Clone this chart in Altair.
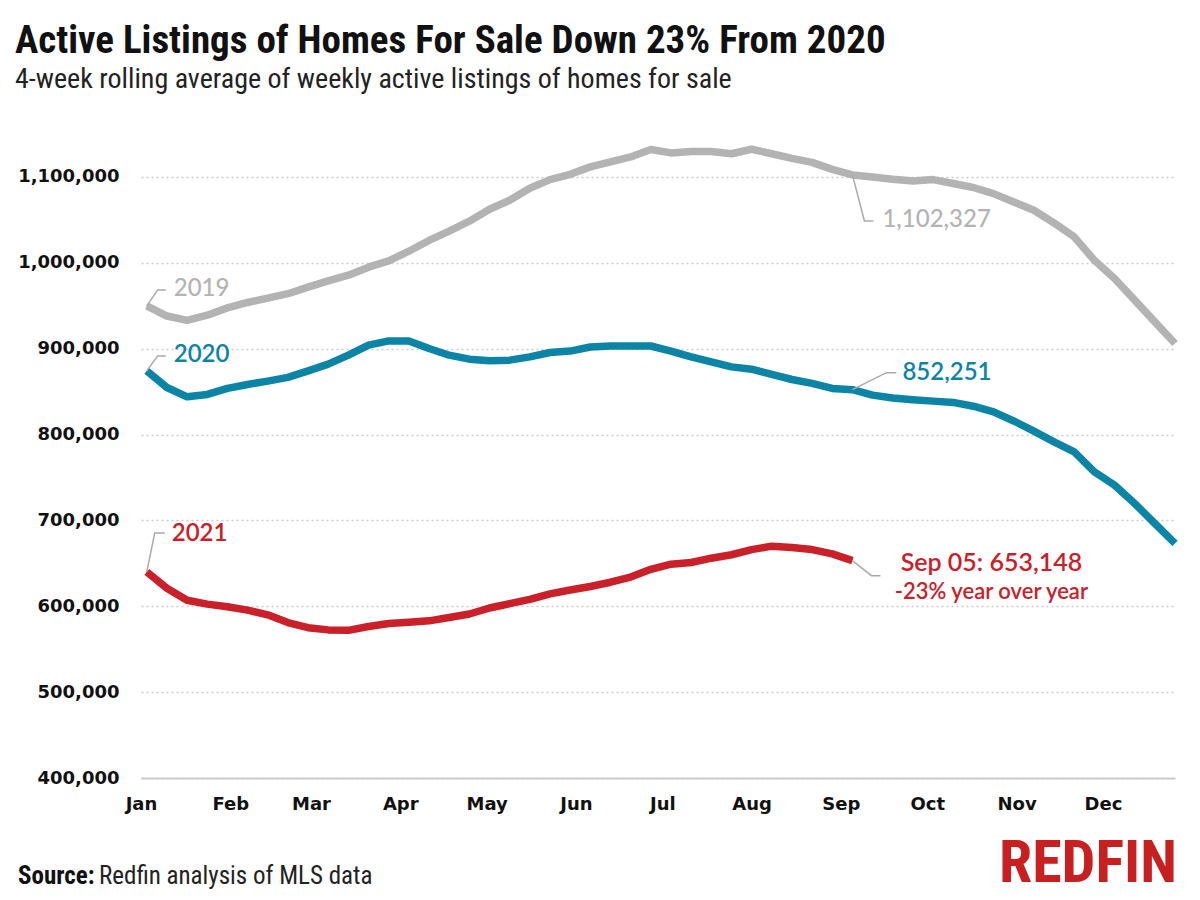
import altair as alt
import pandas as pd

# ---------------- data ----------------
series_names = ["2019", "2020", "2021"]
series_colors = ["#b3b3b3", "#0b84a5", "#c9202a"]
month_labels = ["Jan", "Feb", "Mar", "Apr", "May", "Jun", "Jul", "Aug", "Sep", "Oct", "Nov", "Dec"]
y_ticks = [400000, 500000, 600000, 700000, 800000, 900000, 1000000, 1100000]

v2019 = [949800, 938000, 933000, 939000, 947500, 953800, 958800, 964000, 971600, 978900,
         985600, 994900, 1002200, 1013500, 1026000, 1037000, 1048400, 1062400, 1072900, 1086800,
         1096900, 1103000, 1111700, 1117500, 1123300, 1131900, 1128000, 1129500, 1129500, 1127000,
         1132200, 1127000, 1121600, 1117000, 1108800, 1102327, 1100000, 1097300, 1095300, 1096900,
         1092300, 1087700, 1080600, 1070900, 1061200, 1046400, 1030200, 1003000, 981700, 956500,
         931200, 906000]
v2020 = [874100, 854800, 843900, 846700, 853700, 858300, 862200, 866500, 874100, 882000,
         892400, 904100, 909000, 909000, 900200, 892400, 887800, 885800, 886600, 890400,
         895500, 897200, 901900, 903100, 903100, 903100, 897200, 890400, 884600, 878800,
         876100, 870000, 864100, 859500, 853700, 852251, 845900, 842500, 840600, 838900,
         837400, 833000, 826300, 815800, 803900, 791400, 779800, 756500, 741100, 719700,
         696400, 673200]
v2021 = [640000, 621000, 607000, 602500, 599500, 595500, 590000, 581000, 575000, 572500,
         572000, 576500, 580000, 581500, 583000, 587000, 591000, 598000, 603000, 608000,
         614500, 619000, 623000, 628000, 634000, 643000, 649000, 651000, 656000, 660000,
         666000, 670000, 668500, 666000, 661000, 653148]

first_week = pd.Timestamp("2021-01-03")
domain_start = pd.Timestamp("2021-01-01")
domain_end = pd.Timestamp("2021-12-26")

# ---------------- layout ----------------
W, H = 1034, 644
Y0, Y1 = 400000, 1150000
px_per_day = W / (domain_end - domain_start).days
px_per_val = H / (Y1 - Y0)

def fmt(ts):
    return ts.strftime("%Y-%m-%dT%H:%M:%S")

rows = []
for name, vals in zip(series_names, [v2019, v2020, v2021]):
    for i, v in enumerate(vals):
        rows.append({"date": fmt(first_week + pd.Timedelta(weeks=i)), "value": v, "series": name})
df = pd.DataFrame(rows)

def point_of(name, idx):
    vals = {"2019": v2019, "2020": v2020, "2021": v2021}[name]
    return first_week + pd.Timedelta(weeks=idx), vals[idx]

def leader(name, idx, offsets, gid):
    d, v = point_of(name, idx)
    out = [{"date": fmt(d), "value": v, "g": gid, "o": 0}]
    for k, (dx, dy) in enumerate(offsets):
        out.append({"date": fmt(d + pd.Timedelta(days=dx / px_per_day)),
                    "value": v - dy / px_per_val, "g": gid, "o": k + 1})
    return out

lead_rows = []
lead_rows += leader("2019", 0, [(11, -16), (19, -16)], "a")
lead_rows += leader("2020", 0, [(11, -15), (19, -15)], "b")
lead_rows += leader("2021", 0, [(8, -39), (18, -39)], "c")
lead_rows += leader("2019", 35, [(12, 46), (21, 46)], "d")
lead_rows += leader("2020", 35, [(34, -17), (44, -17)], "e")
lead_rows += leader("2021", 35, [(19, 15), (28, 15)], "f")
lead_df = pd.DataFrame(lead_rows)

x_enc = alt.X(
    "date:T",
    title=None,
    scale=alt.Scale(domain=[alt.DateTime(year=2021, month=1, date=1),
                            alt.DateTime(year=2021, month=12, date=26)]),
    axis=alt.Axis(values=[alt.DateTime(year=2021, month=m, date=1) for m in range(1, 13)],
                  format="%b", labelFont="DejaVu Sans", labelFontWeight="bold",
                  labelFontSize=18, labelColor="#111111", labelPadding=17,
                  labelAlign="center", labelFlush=False,
                  ticks=False, domain=True, domainColor="#cccccc", domainWidth=2,
                  grid=False, labelAngle=0, title=None),
)
y_enc = alt.Y(
    "value:Q",
    title=None,
    scale=alt.Scale(domain=[Y0, Y1], nice=False, zero=False),
    axis=alt.Axis(values=y_ticks, format=",d", grid=True, gridDash=[2, 3],
                  gridColor="#cccccc", gridWidth=1.5, domain=False, ticks=False,
                  tickSize=0, labelPadding=22, labelFont="DejaVu Sans",
                  labelFontWeight="bold", labelFontSize=18, labelColor="#111111",
                  title=None),
)

lines = alt.Chart(df).mark_line(strokeWidth=7.5, strokeCap="butt", strokeJoin="round").encode(
    x=x_enc, y=y_enc,
    color=alt.Color("series:N", scale=alt.Scale(domain=series_names, range=series_colors), legend=None),
)

leaders = alt.Chart(lead_df).mark_line(color="#aaaaaa", strokeWidth=1.5).encode(
    x=alt.X("date:T", title=None), y=alt.Y("value:Q", title=None), detail="g:N", order="o:Q"
)

def label(name, idx, text, color, dx, dy, size=24, weight=500, align="left", font="Lato"):
    d, v = point_of(name, idx)
    ldf = pd.DataFrame({"date": [fmt(d)], "value": [v], "t": [text]})
    return alt.Chart(ldf).mark_text(
        align=align, baseline="middle", dx=dx, dy=dy, font=font,
        fontSize=size, fontWeight=weight, color=color
    ).encode(x=alt.X("date:T", title=None), y=alt.Y("value:Q", title=None), text="t:N")

labels = [
    label("2019", 0, "2019", series_colors[0], 27, -17),
    label("2020", 0, "2020", series_colors[1], 27, -16, weight=600),
    label("2021", 0, "2021", series_colors[2], 25, -38, weight=600),
    label("2019", 35, "1,102,327", series_colors[0], 30, 45),
    label("2020", 35, "852,251", series_colors[1], 50, -17, weight=600),
    label("2021", 35, "Sep 05: 653,148", series_colors[2], 139, 2, size=25, weight=600, align="center"),
    label("2021", 35, "-23% year over year", series_colors[2], 139, 31, size=22, weight=600, align="center"),
]

def free_text(text, x, y, size, weight, color, font, align="left"):
    return alt.Chart(pd.DataFrame({"t": [text]})).mark_text(
        align=align, baseline="alphabetic", font=font, fontSize=size,
        fontWeight=weight, color=color
    ).encode(x=alt.value(x), y=alt.value(y), text="t:N")

narrow = "Liberation Sans Narrow, Roboto Condensed, Roboto"
texts = [
    free_text("Active Listings of Homes For Sale Down 23% From 2020", -126, -81, 39, "bold", "#111111", narrow),
    free_text("4-week rolling average of weekly active listings of homes for sale", -126, -46, 28, "normal", "#222222", narrow),
    free_text("Source:", -123, 750, 25, "bold", "#111111", narrow),
    free_text("Redfin analysis of MLS data", -42, 750, 25, "normal", "#222222", narrow),
    free_text("REDFIN", 1036, 748, 60, "bold", "#c82021", narrow, align="right"),
]

chart = alt.layer(lines, leaders, *labels, *texts).properties(
    width=W, height=H,
    background="white",
    padding={"left": 133, "top": 126, "right": 17, "bottom": 130},
    autosize=alt.AutoSizeParams(type="none"),
).configure_view(stroke=None)

chart.save("out.html", embed_options={"renderer": "svg", "actions": False})
